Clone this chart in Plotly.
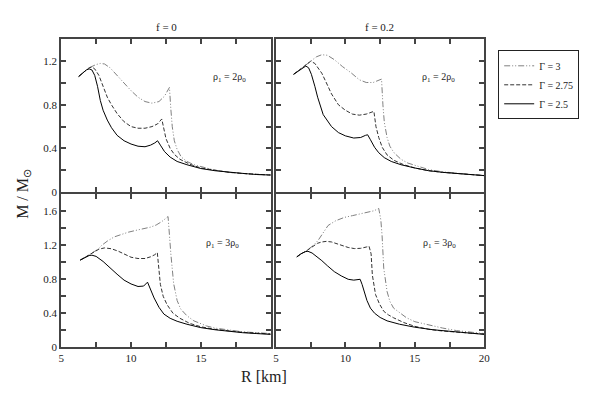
import plotly.graph_objects as go

# ── Data (R in km, M in solar masses) ─────────────────────────────────────────
# panel A: f = 0, rho1 = 2 rho0
A_R_25 = [6.25, 6.5, 6.8, 7.0, 7.2, 7.4, 7.6, 7.8, 8.0, 8.3, 8.6, 9.0, 9.5, 10.0, 10.5, 11.0,
          11.4, 11.7, 11.9, 12.1, 12.4, 12.8, 13.3, 14.0, 15.0, 16.0, 17.0, 18.0, 19.0, 20.0]
A_M_25 = [1.06, 1.09, 1.12, 1.13, 1.12, 1.07, 0.97, 0.84, 0.75, 0.66, 0.59, 0.52, 0.47, 0.44, 0.42, 0.415,
          0.43, 0.45, 0.47, 0.43, 0.37, 0.32, 0.28, 0.25, 0.215, 0.195, 0.18, 0.17, 0.16, 0.155]
A_R_275 = [6.25, 6.5, 6.8, 7.0, 7.2, 7.4, 7.7, 8.0, 8.3, 8.6, 9.0, 9.5, 10.0, 10.5, 11.0, 11.5,
           11.9, 12.2, 12.35, 12.5, 12.8, 13.1, 13.5, 14.2, 15.0, 16.0, 17.0, 18.0, 19.0, 20.0]
A_M_275 = [1.06, 1.09, 1.12, 1.14, 1.147, 1.13, 1.07, 0.97, 0.87, 0.80, 0.72, 0.645, 0.60, 0.585, 0.585, 0.60,
           0.625, 0.67, 0.58, 0.49, 0.40, 0.345, 0.30, 0.255, 0.22, 0.197, 0.18, 0.17, 0.16, 0.155]
A_R_3 = [6.25, 6.5, 6.8, 7.0, 7.2, 7.5, 7.8, 8.1, 8.5, 9.0, 9.5, 10.0, 10.5, 11.0, 11.5, 12.0,
         12.4, 12.75, 12.85, 12.95, 13.1, 13.3, 13.6, 14.0, 14.5, 15.2, 16.0, 17.0, 18.0, 19.0, 20.0]
A_M_3 = [1.06, 1.09, 1.12, 1.14, 1.155, 1.17, 1.18, 1.175, 1.14, 1.07, 0.99, 0.93, 0.87, 0.83, 0.815, 0.83,
         0.88, 0.96, 0.76, 0.60, 0.47, 0.39, 0.32, 0.28, 0.25, 0.225, 0.20, 0.18, 0.17, 0.16, 0.158]

# panel B: f = 0.2, rho1 = 2 rho0
B_R_25 = [6.27, 6.6, 6.9, 7.15, 7.35, 7.55, 7.8, 8.0, 8.4, 9.0, 9.5, 10.0, 10.6, 11.1, 11.45,
          11.6, 11.8, 12.1, 12.4, 12.8, 13.3, 14.0, 15.0, 16.0, 17.0, 18.0, 19.0, 20.0]
B_M_25 = [1.08, 1.11, 1.14, 1.156, 1.14, 1.08, 0.97, 0.87, 0.71, 0.60, 0.545, 0.515, 0.495, 0.50, 0.52,
          0.525, 0.48, 0.41, 0.36, 0.315, 0.28, 0.25, 0.22, 0.195, 0.18, 0.17, 0.16, 0.15]
B_R_275 = [6.27, 6.6, 6.9, 7.2, 7.5, 7.8, 8.0, 8.3, 8.6, 9.0, 9.5, 10.0, 10.5, 11.0, 11.5, 11.9,
           12.05, 12.2, 12.4, 12.65, 13.0, 13.5, 14.2, 15.0, 16.0, 17.0, 18.0, 19.0, 20.0]
B_M_275 = [1.08, 1.11, 1.14, 1.17, 1.20, 1.18, 1.14, 1.09, 1.01, 0.90, 0.80, 0.75, 0.715, 0.705, 0.715, 0.735,
           0.74, 0.60, 0.50, 0.41, 0.34, 0.29, 0.25, 0.22, 0.195, 0.18, 0.17, 0.16, 0.15]
B_R_3 = [6.27, 6.6, 6.9, 7.2, 7.5, 7.9, 8.3, 8.7, 9.2, 9.8, 10.4, 11.0, 11.5, 12.0, 12.35, 12.6,
         12.7, 12.8, 13.0, 13.2, 13.5, 14.0, 14.5, 15.2, 16.0, 17.0, 18.0, 19.0, 20.0]
B_M_3 = [1.08, 1.11, 1.14, 1.17, 1.20, 1.24, 1.26, 1.255, 1.215, 1.15, 1.095, 1.03, 1.005, 1.005, 1.025, 1.036,
         0.80, 0.64, 0.50, 0.42, 0.36, 0.30, 0.265, 0.235, 0.205, 0.185, 0.17, 0.16, 0.152]

# panel C: f = 0, rho1 = 3 rho0
C_R_25 = [6.36, 6.7, 7.0, 7.2, 7.5, 8.0, 8.5, 9.0, 9.5, 10.0, 10.5, 10.9, 11.18, 11.4, 11.65,
          12.0, 12.35, 12.8, 13.3, 14.0, 15.0, 16.0, 17.0, 18.0, 19.0, 20.0]
C_M_25 = [1.026, 1.06, 1.08, 1.084, 1.07, 1.01, 0.93, 0.86, 0.79, 0.745, 0.715, 0.72, 0.766, 0.67, 0.58,
          0.47, 0.39, 0.34, 0.305, 0.27, 0.23, 0.205, 0.185, 0.17, 0.16, 0.15]
C_R_275 = [6.36, 6.7, 7.0, 7.3, 7.7, 8.1, 8.6, 9.1, 9.6, 10.0, 10.5, 11.0, 11.4, 11.7, 11.88,
           12.0, 12.1, 12.3, 12.58, 13.0, 13.5, 14.2, 15.0, 16.0, 17.0, 18.0, 19.0, 20.0]
C_M_275 = [1.026, 1.06, 1.085, 1.12, 1.155, 1.17, 1.16, 1.13, 1.09, 1.06, 1.045, 1.045, 1.065, 1.09, 1.115,
           0.90, 0.74, 0.60, 0.50, 0.40, 0.34, 0.28, 0.24, 0.21, 0.19, 0.175, 0.165, 0.155]
C_R_3 = [6.36, 6.7, 7.0, 7.3, 7.6, 7.9, 8.3, 8.8, 9.3, 9.8, 10.3, 10.8, 11.4, 11.8, 12.2, 12.65,
         12.75, 12.85, 13.05, 13.3, 13.55, 14.0, 14.5, 15.4, 16.0, 17.0, 18.0, 19.0, 20.0]
C_M_3 = [1.026, 1.06, 1.085, 1.12, 1.15, 1.20, 1.25, 1.30, 1.33, 1.355, 1.375, 1.39, 1.415, 1.44, 1.48, 1.54,
         1.30, 1.10, 0.75, 0.55, 0.45, 0.37, 0.31, 0.25, 0.225, 0.20, 0.18, 0.17, 0.16]

# panel D: f = 0.2, rho1 = 3 rho0
D_R_25 = [6.5, 6.8, 7.1, 7.3, 7.6, 8.0, 8.3, 8.7, 9.2, 9.7, 10.2, 10.6, 10.9, 11.06, 11.2, 11.35,
          11.55, 11.8, 12.1, 12.5, 13.0, 13.9, 15.0, 16.3, 17.5, 18.5, 20.0]
D_M_25 = [1.064, 1.10, 1.125, 1.13, 1.11, 1.06, 1.02, 0.96, 0.89, 0.84, 0.80, 0.79, 0.795, 0.80, 0.74, 0.66,
          0.55, 0.46, 0.40, 0.35, 0.31, 0.27, 0.235, 0.205, 0.185, 0.17, 0.15]
D_R_275 = [6.5, 6.8, 7.1, 7.4, 7.7, 8.0, 8.3, 8.63, 9.0, 9.7, 10.2, 10.64, 11.1, 11.5, 11.7, 11.85,
           11.94, 12.17, 12.45, 12.76, 13.1, 13.47, 14.2, 15.0, 16.0, 17.0, 18.0, 19.0, 20.0]
D_M_275 = [1.064, 1.10, 1.125, 1.16, 1.20, 1.225, 1.24, 1.247, 1.24, 1.20, 1.175, 1.162, 1.165, 1.18, 1.19, 1.10,
           0.85, 0.62, 0.51, 0.423, 0.38, 0.346, 0.29, 0.245, 0.21, 0.19, 0.175, 0.165, 0.155]
D_R_3 = [6.5, 6.8, 7.1, 7.4, 7.7, 8.04, 8.4, 8.75, 9.3, 9.93, 10.5, 11.1, 11.6, 12.06, 12.4, 12.55,
         12.64, 12.76, 13.0, 13.2, 13.47, 14.0, 14.4, 15.0, 15.8, 17.0, 18.0, 19.0, 20.0]
D_M_3 = [1.064, 1.10, 1.125, 1.16, 1.20, 1.26, 1.35, 1.434, 1.49, 1.53, 1.55, 1.57, 1.59, 1.608, 1.635, 1.50,
         1.317, 0.93, 0.656, 0.54, 0.46, 0.39, 0.346, 0.30, 0.268, 0.225, 0.195, 0.175, 0.16]

GAMMA_LABELS = ["Γ = 3", "Γ = 2.75", "Γ = 2.5"]
X_TICKS = [5, 7.5, 10, 12.5, 15, 17.5, 20]
Y_TICKS_TOP = [0, 0.2, 0.4, 0.6, 0.8, 1.0, 1.2, 1.4]
Y_TICKS_BOT = [0, 0.2, 0.4, 0.6, 0.8, 1.0, 1.2, 1.4, 1.6, 1.8]

# ── Style ─────────────────────────────────────────────────────────────────────
FONT = "Liberation Serif"
FRAME = "#444444"
INK = "#222222"
STYLES = [
    dict(color="#808080", width=1, dash="6px,2px,1px,2px,1px,2px"),
    dict(color="#333333", width=1, dash="4px,2px"),
    dict(color="#000000", width=1, dash="solid"),
]

panels = [
    ("x", "y", [(A_R_3, A_M_3), (A_R_275, A_M_275), (A_R_25, A_M_25)]),
    ("x2", "y2", [(B_R_3, B_M_3), (B_R_275, B_M_275), (B_R_25, B_M_25)]),
    ("x3", "y3", [(C_R_3, C_M_3), (C_R_275, C_M_275), (C_R_25, C_M_25)]),
    ("x4", "y4", [(D_R_3, D_M_3), (D_R_275, D_M_275), (D_R_25, D_M_25)]),
]

fig = go.Figure()
for p, (xa, ya, curves) in enumerate(panels):
    for i, (r, m) in enumerate(curves):
        fig.add_trace(go.Scatter(
            x=r, y=m, xaxis=xa, yaxis=ya, mode="lines",
            line=STYLES[i], name=GAMMA_LABELS[i],
            showlegend=(p == 0),
        ))


def _fmt(v):
    return "0" if v == 0 else f"{v:g}"


def _axis(domain, anchor, rng, ticks, labels):
    return dict(
        domain=domain, anchor=anchor, range=rng,
        tickvals=ticks,
        ticktext=[(_fmt(v) if any(abs(v - l) < 1e-9 for l in labels) else "") for v in ticks],
        ticks="inside", ticklen=5, tickwidth=1.5, tickcolor=FRAME,
        showline=True, linecolor=FRAME, linewidth=2, mirror="ticks",
        showgrid=False, zeroline=False,
        tickfont=dict(family=FONT, size=11, color=INK),
    )


XL = [0.100, 0.460]
XR = [0.469, 0.827]
YT = [0.504, 0.898]
YB = [0.103, 0.4975]

fig.update_layout(
    width=591, height=393,
    margin=dict(l=0, r=0, t=0, b=0),
    paper_bgcolor="white", plot_bgcolor="white",
    font=dict(family=FONT, color=INK),
    xaxis=_axis(XL, "y", [5, 20], X_TICKS, []),
    xaxis2=_axis(XR, "y2", [5, 20], X_TICKS, []),
    xaxis3=_axis(XL, "y3", [5, 20], X_TICKS, [5, 10, 15]),
    xaxis4=_axis(XR, "y4", [5, 20], X_TICKS, [5, 10, 15, 20]),
    yaxis=_axis(YT, "x", [0, 1.4], Y_TICKS_TOP, [0, 0.4, 0.8, 1.2]),
    yaxis2=_axis(YT, "x2", [0, 1.4], Y_TICKS_TOP, []),
    yaxis3=_axis(YB, "x3", [0, 1.8], Y_TICKS_BOT, [0, 0.4, 0.8, 1.2, 1.6]),
    yaxis4=_axis(YB, "x4", [0, 1.8], Y_TICKS_BOT, []),
    showlegend=True,
    legend=dict(
        x=0.99, y=0.87, xanchor="right", yanchor="top",
        bordercolor=INK, borderwidth=1, bgcolor="white",
        font=dict(family=FONT, size=10, color=INK),
        tracegroupgap=0, itemwidth=30,
    ),
)

ann = [
    dict(x=0.281, y=0.929, text="f = 0", size=11),
    dict(x=0.647, y=0.929, text="f = 0.2", size=11),
    dict(x=0.390, y=0.800, text="ρ<sub>1</sub> = 2ρ<sub>0</sub>", size=10),
    dict(x=0.748, y=0.800, text="ρ<sub>1</sub> = 2ρ<sub>0</sub>", size=10),
    dict(x=0.377, y=0.370, text="ρ<sub>1</sub> = 3ρ<sub>0</sub>", size=10),
    dict(x=0.750, y=0.372, text="ρ<sub>1</sub> = 3ρ<sub>0</sub>", size=10),
    dict(x=0.449, y=0.027, text="R [km]", size=16),
]
for a in ann:
    fig.add_annotation(
        x=a["x"], y=a["y"], xref="paper", yref="paper", text=a["text"],
        xanchor="center", yanchor="middle",
        showarrow=False, font=dict(family=FONT, size=a["size"], color=INK),
    )
fig.add_annotation(
    x=0.035, y=0.50, xref="paper", yref="paper", text="M / M<sub>⊙</sub>",
    xanchor="center", yanchor="middle",
    showarrow=False, textangle=-90, font=dict(family=FONT, size=16, color=INK),
)

# page tweaks: no body margin, no scrollbars
post = """
document.documentElement.style.margin='0';
document.body.style.margin='0';
document.documentElement.style.overflow='hidden';
document.body.style.overflow='hidden';
"""
fig.write_html("out.html", config={"displayModeBar": False}, post_script=post)
